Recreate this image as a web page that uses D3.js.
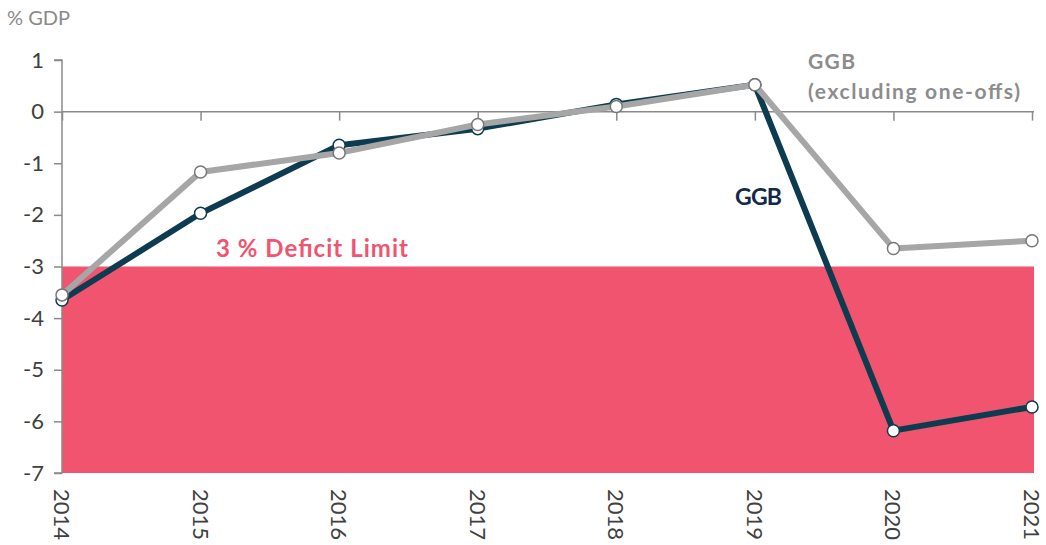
<!DOCTYPE html>
<html>
<head>
  <script src="https://cdn.jsdelivr.net/npm/d3@7/dist/d3.min.js"></script>
  <style>
    body { margin: 0; background: #fff; }
    text { font-family: Lato, "Open Sans", sans-serif; }
  </style>
</head>
<body>
  <svg width="1046" height="545" id="mainsvg"></svg>
  <script>
      const years = [2014, 2015, 2016, 2017, 2018, 2019, 2020, 2021];
      const ggb = [-3.65, -1.97, -0.65, -0.33, 0.14, 0.52, -6.18, -5.72];
      const ggbExcl = [-3.55, -1.17, -0.80, -0.25, 0.10, 0.52, -2.65, -2.50];
      const yTicks = [1, 0, -1, -2, -3, -4, -5, -6, -7];
      const deficitLimit = -3;

      const svg = d3.select('svg');
      const xScale = d3.scalePoint().domain(years).range([62, 1032]);
      const yScale = d3.scaleLinear().domain([-7, 1]).range([473, 60]);

      // deficit band
      svg.append('rect')
      .attr('x', xScale(2014)).attr('y', yScale(deficitLimit))
      .attr('width', xScale(2021) - xScale(2014) + 2)
      .attr('height', yScale(-7) - yScale(deficitLimit))
      .attr('fill', '#f0546f');

      // y axis
      const yAxis = d3.axisLeft(yScale).tickValues(yTicks).tickSize(8).tickPadding(10).tickFormat(d3.format('d'));
      const yAxisGroup = svg.append('g').attr('transform', `translate(${xScale(2014)}, 0)`).call(yAxis);
      yAxisGroup.select('.domain').attr('stroke', '#8a8a8a').attr('stroke-width', 1.5).attr('d', `M-8,${yScale(1)}H0V${yScale(-7)}H-8`);
      yAxisGroup.selectAll('.tick line').attr('stroke', '#8a8a8a').attr('stroke-width', 1.5);
      yAxisGroup.selectAll('.tick text').attr('font-size', 22).attr('fill', '#404040')
      .text(d => d < 0 ? '-' + Math.abs(d) : d);

      // zero line with ticks
      const xAxis = d3.axisBottom(xScale).tickSize(9).tickFormat('');
      const xAxisGroup = svg.append('g').attr('transform', `translate(0, ${yScale(0)})`).call(xAxis);
      xAxisGroup.select('.domain').attr('stroke', '#8a8a8a').attr('stroke-width', 1.5).attr('d', `M${xScale(2014)},0H${xScale(2021) + 2}`);
      xAxisGroup.selectAll('.tick line').attr('stroke', '#8a8a8a').attr('stroke-width', 1.5);

      // year labels at bottom, rotated
      svg.selectAll('.yearLabel').data(years).join('text').attr('class', 'yearLabel')
      .attr('transform', d => `translate(${xScale(d) - 8}, 489) rotate(90)`)
      .attr('font-size', 22).attr('fill', '#404040')
      .text(d => d);

      // axis title
      svg.append('text').attr('x', 7).attr('y', 25).attr('font-size', 20).attr('fill', '#8a8a8a').text('% GDP');

      const line = d3.line().x(d => xScale(d[0])).y(d => yScale(d[1]));
      const drawSeries = function(values, color){
          const pts = years.map((y, i) => [y, values[i]]);
          svg.append('path').datum(pts).attr('d', line)
          .attr('fill', 'none').attr('stroke', color).attr('stroke-width', 6).attr('stroke-linejoin', 'round');
          svg.append('g').selectAll('circle').data(pts).join('circle')
          .attr('cx', d => xScale(d[0])).attr('cy', d => yScale(d[1])).attr('r', 6)
          .attr('fill', '#fff').attr('stroke', color === '#a6a6a6' ? '#777' : color).attr('stroke-width', 1.5);
      };
      drawSeries(ggb, '#0d3c50');
      drawSeries(ggbExcl, '#a6a6a6');

      // annotations
      svg.append('text').attr('x', 216).attr('y', 257).attr('font-size', 24).attr('font-weight', 'bold')
      .attr('fill', '#f0546f').attr('textLength', 192).attr('lengthAdjust', 'spacing').text('3 % Deficit Limit');
      svg.append('text').attr('x', 735).attr('y', 205).attr('font-size', 23).attr('font-weight', 'bold')
      .attr('fill', '#13294b').attr('textLength', 47).attr('lengthAdjust', 'spacing').text('GGB');
      svg.append('text').attr('x', 808).attr('y', 69).attr('font-size', 21).attr('font-weight', 'bold')
      .attr('fill', '#8c8c8c').attr('textLength', 47).attr('lengthAdjust', 'spacing').text('GGB');
      svg.append('text').attr('x', 808).attr('y', 99).attr('font-size', 21).attr('font-weight', 'bold')
      .attr('fill', '#8c8c8c').attr('textLength', 212).attr('lengthAdjust', 'spacing').text('(excluding one-offs)');
  </script>
</body>
</html>
